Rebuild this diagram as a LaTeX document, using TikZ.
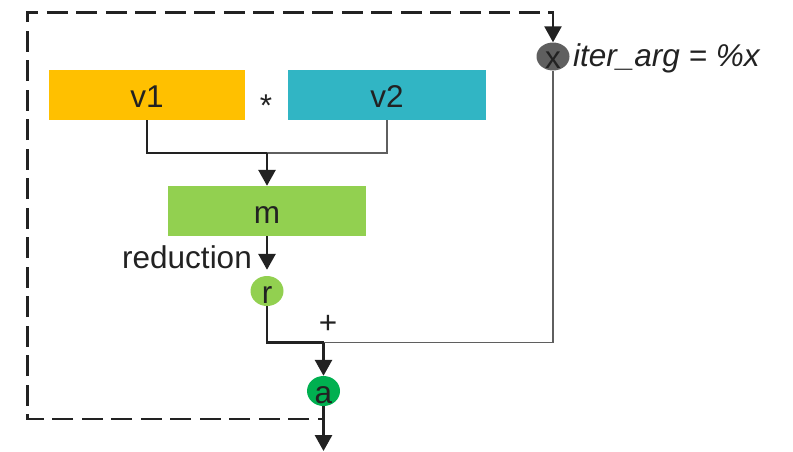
\documentclass[tikz,border=0pt]{standalone}
\usepackage{fontspec}
\setmainfont{Liberation Sans}
\usepackage{graphicx}
\usetikzlibrary{arrows.meta,shapes.geometric}

\definecolor{amber}{HTML}{FFC000}
\definecolor{tealbox}{HTML}{31B5C4}
\definecolor{lime}{HTML}{92D050}
\definecolor{leaf}{HTML}{00B050}
\definecolor{slate}{HTML}{5F5F5F}
\definecolor{ink}{HTML}{222222}

% set a label so that its baseline sits 12pt below the node centre
\newcommand{\lowered}[1]{\raisebox{-12pt}[0pt][0pt]{#1}}

\begin{document}
\begin{tikzpicture}[x=1pt,y=-1pt,
  txt/.style={font=\fontsize{31.5}{36}\selectfont, text=ink},
  box/.style={rectangle, draw=none, inner sep=0pt, minimum height=50pt, txt},
  dot/.style={ellipse, draw=none, inner sep=0pt, minimum width=33pt, minimum height=30pt, txt},
  lbl/.style={inner sep=0pt, txt},
  flow/.style={draw=ink, line width=2.8pt},
  side/.style={draw=slate, line width=1.4pt},
  loopback/.style={draw=ink, line width=2.5pt, dash pattern=on 21pt off 8.5pt, dash phase=15pt},
  tip/.style={-{Triangle[length=16pt,width=17pt]}}]

\useasboundingbox (0,0) rectangle (793,451);

% operand boxes and the product
\node[box, fill=amber, minimum width=196pt] (v1) at (147,95) {\lowered{v1}};
\node[box, fill=tealbox, minimum width=198pt] (v2) at (387,95) {\lowered{v2}};
\node[lbl, anchor=base] (mul) at (266,116) {*};
\node[box, fill=lime, minimum width=198pt] (m) at (267,211) {\lowered{m}};

% reduction result, loop argument and accumulator
\node[dot, fill=lime] (r) at (267,291) {\lowered{r}};
\node[lbl, anchor=base east] (red) at (252,268) {reduction};
\node[dot, fill=slate, minimum height=28pt] (x) at (553,56.5) {\lowered{x}};
\node[lbl, anchor=base west, font=\fontsize{31.5}{36}\selectfont\itshape] (iter) at (573,66) {iter\_arg = \%x};
\node[dot, fill=leaf] (a) at (323.5,391) {\lowered{a}};
\node[lbl, anchor=base] (plus) at (328,333) {+};

% junction points
\coordinate (j1) at (267,153);
\coordinate (j2) at (323.5,342.5);
\coordinate (out) at (323.5,451);
\coordinate (back) at (323.5,419);
\coordinate (corner) at (27.3,12.3);

% multiply: v1 * v2 -> m
\draw[side] (v2.south) |- (j1);
\draw[flow] (v1.south) |- (j1);
\draw[flow, tip] (j1) -- (m.north);

% reduction: m -> r
\draw[flow, tip, shorten >=6pt] (m.south) -- (r.north);

% add: r + x -> a
\draw[side] (j2) -| (x.south);
\draw[flow] (r.south) |- (j2);
\draw[flow, tip] (j2) -- (a.north);
\draw[flow, tip] (a.south) -- (out);

% loop-carried value fed back to x
\draw[loopback, tip] (back) -| (corner) -| (x.north);
\end{tikzpicture}
\end{document}
